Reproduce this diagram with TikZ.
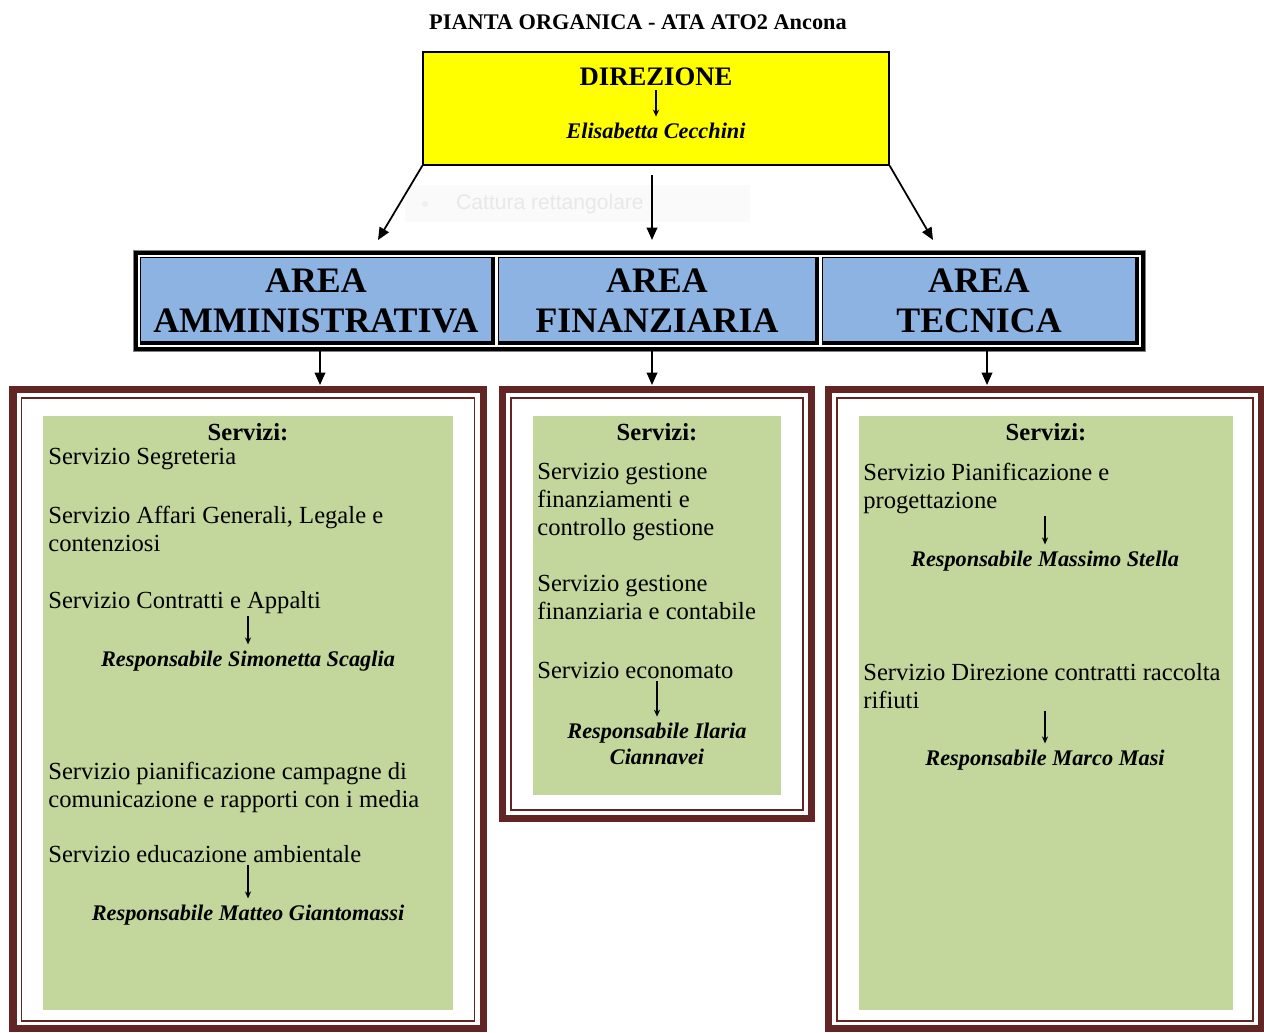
\documentclass[tikz,border=0pt]{standalone}
\usepackage{fontspec}
\setmainfont{Liberation Serif}
\setsansfont{Liberation Sans}
\usetikzlibrary{arrows.meta}
\usetikzlibrary{positioning}

\definecolor{dirYellow}{HTML}{FFFF00}
\definecolor{areaBlue}{HTML}{8DB3E2}
\definecolor{servGreen}{HTML}{C3D69B}
\definecolor{frameRed}{HTML}{632523}

\tikzset{
  servtext/.style={anchor=north west, align=left, inner sep=0pt, font=\fontsize{14}{16}\selectfont},
  resptext/.style={align=center, inner sep=0pt, font=\fontsize{12.7}{14.8}\selectfont\bfseries\itshape},
  headtext/.style={inner sep=0pt, font=\fontsize{14}{16}\selectfont\bfseries},
  areatext/.style={align=center, inner sep=0pt, font=\fontsize{20.4}{22.8}\selectfont\bfseries},
  bigarr/.style={-{Triangle[length=7pt,width=6pt]}, line width=1pt},
  smallarr/.style={-{Stealth[length=4pt,width=3.5pt]}, line width=0.8pt, shorten >=3.5pt, shorten <=1pt},
  outerframe/.style={draw=frameRed, line width=4pt},
  innerframe/.style={draw=frameRed, line width=1.1pt},
}

\begin{document}
\begin{tikzpicture}[x=0.02cm, y=-0.02cm]
	\useasboundingbox (0,0) rectangle (1264,1032);
	\clip (0,0) rectangle (1264,1032);

	% titolo
	\node[font=\fontsize{12.7}{15}\selectfont\bfseries] (titolo) at (638,22) {PIANTA ORGANICA - ATA ATO2 Ancona};

	% direzione
	\node[draw=black, fill=dirYellow, line width=0.8pt, minimum width=9.32cm, minimum height=2.26cm, inner sep=0pt] (direzione) at (656,108.5) {};
	\node[font=\fontsize{15.2}{17}\selectfont\bfseries, inner sep=0pt] (dirT) at (656,77) {DIREZIONE};
	\node[font=\fontsize{12.7}{15}\selectfont\bfseries\itshape, inner sep=0pt] (dirN) at (656,131) {Elisabetta Cecchini};
	\draw[smallarr, shorten <=2pt] (dirT.south) -- (dirN.north);

	% riquadro sbiadito
	\fill[gray!4] (405,185) rectangle (750,222);
	\fill[gray!12] (425,204) circle (3);
	\node[font=\sffamily\fontsize{12}{14}\selectfont, text=gray!18] (cattura) at (550,204) {Cattura rettangolare};

	% aree
	\fill[black] (133,250) rectangle (1145,351);
	\draw[gray, line width=0.4pt] (133,250) rectangle (1145,351);
	\foreach \xa/\xb in {139/496, 497/820, 821/1140}{
		\draw[white, line width=0.6pt] (\xa,256) rectangle (\xb,346);
		\fill[areaBlue] (\xa+2,258) rectangle (\xb-5,341);
	}
	\node[areatext] (amm) at (316,301) {AREA\\AMMINISTRATIVA};
	\node[areatext] (fin) at (657,301) {AREA\\FINANZIARIA};
	\node[areatext] (tec) at (979,301) {AREA\\TECNICA};

	\coordinate (dirS) at (652,175);
	\coordinate (tipA) at (378,240);
	\coordinate (tipF) at (652,240);
	\coordinate (tipT) at (933,240);
	\draw[bigarr] (direzione.south west) -- (tipA);
	\draw[bigarr] (dirS) -- (tipF);
	\draw[bigarr] (direzione.south east) -- (tipT);

	% cornici servizi
	\fill[servGreen] (43,416) rectangle (453,1010);
	\fill[servGreen] (533,416) rectangle (781,795);
	\fill[servGreen] (859,416) rectangle (1233,1010);
	\draw[outerframe] (13,389.5) rectangle (483.5,1028.5);
	\draw[innerframe] (21.5,398) rectangle (474.5,1021);
	\draw[outerframe] (502.5,389.5) rectangle (811.5,818.5);
	\draw[innerframe] (511,398) rectangle (803,810);
	\draw[outerframe] (828.5,389.5) rectangle (1261,1028.5);
	\draw[innerframe] (837,398) rectangle (1253,1021);

	\coordinate (ammS) at (320,351);  \coordinate (ammF) at (320,385);
	\coordinate (finS) at (652,351);  \coordinate (finF) at (652,385);
	\coordinate (tecS) at (987,351);  \coordinate (tecF) at (987,385);
	\draw[bigarr] (ammS) -- (ammF);
	\draw[bigarr] (finS) -- (finF);
	\draw[bigarr] (tecS) -- (tecF);

	% area amministrativa
	\node[headtext] (servA) at (248,432) {Servizi:};
	\node[servtext] (a1) at (48,448) {Servizio Segreteria};
	\node[servtext] (a2) at (48,506) {Servizio Affari Generali, Legale e\\contenziosi};
	\node[servtext] (a3) at (48,591) {Servizio Contratti e Appalti};
	\node[resptext] (ra3) at (248,661) {Responsabile Simonetta Scaglia};
	\node[servtext] (a4) at (48,762) {Servizio pianificazione campagne di\\comunicazione e rapporti con i media};
	\node[servtext] (a5) at (48,845) {Servizio educazione ambientale};
	\node[resptext] (ra5) at (248,915) {Responsabile Matteo Giantomassi};
	\draw[smallarr] (ra3.north |- a3.south) -- (ra3.north);
	\draw[smallarr] (ra5.north |- a5.south) -- (ra5.north);

	% area finanziaria
	\node[headtext] (servF) at (657,432) {Servizi:};
	\node[servtext] (f1) at (537,463) {Servizio gestione\\finanziamenti e\\controllo gestione};
	\node[servtext] (f2) at (537,575) {Servizio gestione\\finanziaria e contabile};
	\node[servtext] (f3) at (537,662) {Servizio economato};
	\node[resptext] (rf3) at (657,744) {Responsabile Ilaria\\Ciannavei};
	\draw[smallarr] (rf3.north |- f3.south) -- (rf3.north);

	% area tecnica
	\node[headtext] (servT) at (1046,432) {Servizi:};
	\node[servtext] (t1) at (863,463) {Servizio Pianificazione e\\progettazione};
	\node[resptext] (rt1) at (1045,561) {Responsabile Massimo Stella};
	\node[servtext] (t2) at (863,663) {Servizio Direzione contratti raccolta\\rifiuti};
	\node[resptext] (rt2) at (1045,760) {Responsabile Marco Masi};
	\draw[smallarr] (rt1.north |- t1.south) -- (rt1.north);
	\draw[smallarr] (rt2.north |- t2.south) -- (rt2.north);
\end{tikzpicture}
\end{document}
